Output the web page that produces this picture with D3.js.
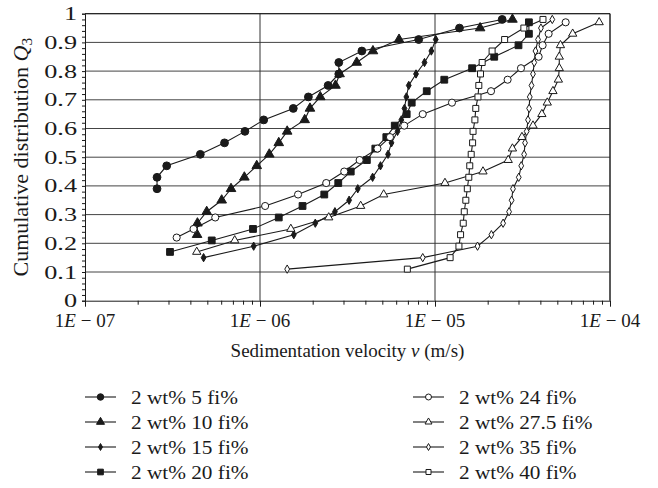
<!DOCTYPE html>
<html>
<head>
<meta charset="utf-8">
<script src="https://cdn.jsdelivr.net/npm/d3@7"></script>
<style>
  html, body { margin: 0; padding: 0; background: #fff; }
  svg { display: block; }
  text { font-family: "Liberation Serif", "DejaVu Serif", serif; fill: #1a1a1a; }
</style>
</head>
<body>
<svg id="chart" width="658" height="488"></svg>
<script>
// Series labels
const seriesLabels = ["2 wt% 5 fi%", "2 wt% 10 fi%", "2 wt% 15 fi%", "2 wt% 20 fi%",
                      "2 wt% 24 fi%", "2 wt% 27.5 fi%", "2 wt% 35 fi%", "2 wt% 40 fi%"];

// Sedimentation velocity (m/s) and cumulative distribution Q3 for each suspension
const v05 = [2.58e-7, 2.58e-7, 2.93e-7, 4.56e-7, 6.27e-7, 8.2e-7, 1.05e-6, 1.55e-6, 1.89e-6, 2.45e-6,
             2.82e-6, 2.82e-6, 3.82e-6, 8.07e-6, 1.38e-5, 2.42e-5];
const q05 = [0.39, 0.43, 0.47, 0.51, 0.55, 0.59, 0.63, 0.67, 0.71, 0.75,
             0.79, 0.83, 0.87, 0.91, 0.95, 0.98];

const v10 = [4.37e-7, 4.39e-7, 4.96e-7, 6.04e-7, 6.83e-7, 8.14e-7, 9.58e-7, 1.13e-6, 1.28e-6, 1.43e-6,
             1.80e-6, 1.93e-6, 2.21e-6, 2.70e-6, 2.85e-6, 3.57e-6, 4.42e-6, 6.23e-6, 1.81e-5, 2.77e-5];
const q10 = [0.23, 0.27, 0.31, 0.35, 0.39, 0.43, 0.47, 0.51, 0.55, 0.59,
             0.63, 0.67, 0.71, 0.75, 0.79, 0.83, 0.87, 0.91, 0.95, 0.98];

const v15 = [4.76e-7, 9.20e-7, 1.56e-6, 2.07e-6, 2.68e-6, 3.23e-6, 3.62e-6, 4.40e-6, 4.88e-6, 5.39e-6,
             5.64e-6, 6.11e-6, 6.42e-6, 6.69e-6, 6.86e-6, 7.08e-6, 7.79e-6, 8.71e-6, 9.53e-6, 1.01e-5];
const q15 = [0.15, 0.19, 0.23, 0.27, 0.31, 0.35, 0.39, 0.43, 0.47, 0.51,
             0.55, 0.59, 0.63, 0.67, 0.71, 0.75, 0.79, 0.83, 0.87, 0.91];

const v20 = [3.06e-7, 5.30e-7, 9.12e-7, 1.28e-6, 1.75e-6, 2.33e-6, 2.80e-6, 3.30e-6, 4.08e-6, 4.56e-6,
             5.27e-6, 5.89e-6, 6.89e-6, 7.36e-6, 8.97e-6, 1.13e-5, 1.63e-5, 2.18e-5, 3.00e-5, 3.44e-5, 3.44e-5];
const q20 = [0.17, 0.21, 0.25, 0.29, 0.33, 0.37, 0.41, 0.45, 0.49, 0.53,
             0.57, 0.61, 0.65, 0.69, 0.73, 0.77, 0.81, 0.85, 0.89, 0.93, 0.97];

const v24 = [3.34e-7, 4.17e-7, 5.55e-7, 1.07e-6, 1.65e-6, 2.39e-6, 3.03e-6, 3.71e-6, 4.69e-6, 5.53e-6,
             6.67e-6, 8.51e-6, 1.25e-5, 2.09e-5, 2.60e-5, 3.10e-5, 3.91e-5, 4.12e-5, 4.46e-5, 5.58e-5];
const q24 = [0.22, 0.25, 0.29, 0.33, 0.37, 0.41, 0.45, 0.49, 0.53, 0.57,
             0.61, 0.65, 0.69, 0.73, 0.77, 0.81, 0.85, 0.89, 0.93, 0.97];

const v275 = [4.35e-7, 7.17e-7, 1.50e-6, 2.47e-6, 3.76e-6, 5.09e-6, 1.14e-5, 1.88e-5, 2.62e-5, 2.77e-5,
              3.14e-5, 3.63e-5, 4.08e-5, 4.38e-5, 4.72e-5, 5.07e-5, 5.13e-5, 5.13e-5, 5.21e-5, 6.12e-5, 8.67e-5];
const q275 = [0.17, 0.21, 0.25, 0.29, 0.33, 0.37, 0.41, 0.45, 0.49, 0.53,
              0.57, 0.61, 0.65, 0.69, 0.73, 0.77, 0.81, 0.85, 0.89, 0.93, 0.97];

const v35 = [1.43e-6, 8.51e-6, 1.75e-5, 2.10e-5, 2.45e-5, 2.65e-5, 2.74e-5, 2.79e-5, 3.01e-5, 3.11e-5,
             3.23e-5, 3.27e-5, 3.34e-5, 3.40e-5, 3.45e-5, 3.48e-5, 3.56e-5, 3.63e-5, 3.69e-5, 3.75e-5,
             3.88e-5, 4.03e-5, 4.68e-5];
const q35 = [0.11, 0.15, 0.19, 0.23, 0.27, 0.31, 0.35, 0.39, 0.43, 0.47,
             0.51, 0.55, 0.59, 0.63, 0.67, 0.71, 0.75, 0.79, 0.83, 0.87,
             0.91, 0.95, 0.98];

const v40 = [6.95e-6, 1.22e-5, 1.37e-5, 1.40e-5, 1.45e-5, 1.47e-5, 1.50e-5, 1.53e-5, 1.56e-5, 1.58e-5,
             1.61e-5, 1.64e-5, 1.65e-5, 1.69e-5, 1.71e-5, 1.76e-5, 1.78e-5, 1.82e-5, 1.86e-5, 2.12e-5,
             2.50e-5, 3.22e-5, 4.14e-5];
const q40 = [0.11, 0.15, 0.19, 0.23, 0.27, 0.31, 0.35, 0.39, 0.43, 0.47,
             0.51, 0.55, 0.59, 0.63, 0.67, 0.71, 0.75, 0.79, 0.83, 0.87,
             0.91, 0.95, 0.98];

// Axis ticks
const xTickValues = [1e-7, 1e-6, 1e-5, 1e-4];
const xTickExponents = ["07", "06", "05", "04"];
const yTickValues = [0, 0.1, 0.2, 0.3, 0.4, 0.5, 0.6, 0.7, 0.8, 0.9, 1];
const yTickLabels = ["0", "0.1", "0.2", "0.3", "0.4", "0.5", "0.6", "0.7", "0.8", "0.9", "1"];

// Marker look for each series: shape, filled or hollow, symbol area
const markerShapes = [
  {type: d3.symbolCircle,   filled: true,  size: 48},
  {type: d3.symbolTriangle, filled: true,  size: 40},
  {type: d3.symbolDiamond,  filled: true,  size: 20},
  {type: d3.symbolSquare,   filled: true,  size: 46},
  {type: d3.symbolCircle,   filled: false, size: 40},
  {type: d3.symbolTriangle, filled: false, size: 30},
  {type: d3.symbolDiamond,  filled: false, size: 20},
  {type: d3.symbolSquare,   filled: false, size: 36}
];

const series = [
  {v: v05, q: q05}, {v: v10, q: q10}, {v: v15, q: q15}, {v: v20, q: q20},
  {v: v24, q: q24}, {v: v275, q: q275}, {v: v35, q: q35}, {v: v40, q: q40}
].map((s, i) => ({
  label: seriesLabels[i],
  marker: markerShapes[i],
  points: s.v.map((v, j) => ({v: v, q: s.q[j]}))
}));

const ink = "#1a1a1a";
const svg = d3.select("#chart");

const plot = {left: 85, right: 610, top: 13.7, bottom: 300.7};
const x = d3.scaleLog().domain([1e-7, 1e-4]).range([plot.left, plot.right]);
const y = d3.scaleLinear().domain([0, 1]).range([plot.bottom, plot.top]);

// Horizontal grid lines at every 0.1
svg.append("g")
  .selectAll("line")
  .data(yTickValues.slice(1))
  .join("line")
  .attr("x1", plot.left).attr("x2", plot.right)
  .attr("y1", d => y(d)).attr("y2", d => y(d))
  .attr("stroke", "#444").attr("stroke-width", 1);

// Vertical grid lines at each decade
svg.append("g")
  .selectAll("line")
  .data(xTickValues.slice(1))
  .join("line")
  .attr("x1", d => x(d)).attr("x2", d => x(d))
  .attr("y1", plot.top).attr("y2", plot.bottom)
  .attr("stroke", "#333").attr("stroke-width", 1);

// X axis: major ticks at decades, minor ticks at 2..9
const xAxis = d3.axisBottom(x)
  .tickValues(x.ticks())
  .tickSize(5)
  .tickFormat("");
const gx = svg.append("g")
  .attr("transform", `translate(0,${plot.bottom})`)
  .call(xAxis);
gx.select(".domain").attr("stroke", ink);
gx.selectAll(".tick line")
  .attr("stroke", ink)
  .attr("y2", d => xTickValues.some(t => Math.abs(t - d) / t < 1e-9) ? 6 : 4);

// X tick labels "1E − 07"
const xLab = svg.append("g").selectAll("text")
  .data(xTickValues)
  .join("text")
  .attr("x", d => x(d))
  .attr("y", 327)
  .attr("text-anchor", "middle")
  .attr("font-size", 19);
xLab.append("tspan").text("1");
xLab.append("tspan").attr("font-style", "italic").text("E");
xLab.append("tspan").text((d, i) => " \u2212 " + xTickExponents[i]);

// Y axis: minor ticks every 0.02 to the left
const yAxis = d3.axisLeft(y)
  .tickValues(d3.range(0, 51).map(i => i / 50))
  .tickSize(3)
  .tickFormat("");
const gy = svg.append("g")
  .attr("transform", `translate(${plot.left},0)`)
  .call(yAxis);
gy.select(".domain").attr("stroke", ink);
gy.selectAll(".tick line").attr("stroke", ink);

// Y tick labels (wide set type)
svg.append("g").selectAll("text")
  .data(yTickValues)
  .join("text")
  .attr("transform", d => `translate(77,${y(d) + 6.5}) scale(1.38,1)`)
  .attr("text-anchor", "end")
  .attr("font-size", 19)
  .text((d, i) => yTickLabels[i]);

// Frame: top and right edges
svg.append("line")
  .attr("x1", plot.right).attr("x2", plot.right)
  .attr("y1", plot.top).attr("y2", plot.bottom)
  .attr("stroke", ink);
svg.append("line")
  .attr("x1", plot.left).attr("x2", plot.right)
  .attr("y1", plot.top).attr("y2", plot.top)
  .attr("stroke", ink);

// Axis titles
const xTitle = svg.append("text")
  .attr("x", (plot.left + plot.right) / 2)
  .attr("y", 357)
  .attr("text-anchor", "middle")
  .attr("font-size", 19);
xTitle.append("tspan").text("Sedimentation velocity ");
xTitle.append("tspan").attr("font-style", "italic").text("v");
xTitle.append("tspan").text(" (m/s)");

const yTitle = svg.append("text")
  .attr("transform", `translate(28,${(plot.top + plot.bottom) / 2}) rotate(-90) scale(1.1,1)`)
  .attr("text-anchor", "middle")
  .attr("font-size", 20);
yTitle.append("tspan").text("Cumulative distribution ");
yTitle.append("tspan").attr("font-style", "italic").text("Q");
yTitle.append("tspan").attr("font-size", 14).attr("dy", 4).text("3");

// Series lines and markers
const line = d3.line().x(d => x(d.v)).y(d => y(d.q));
const symbolPath = (m, k = 1) => d3.symbol().type(m.type).size(m.size * k)();

const gSeries = svg.append("g");
series.forEach(s => {
  gSeries.append("path")
    .attr("d", line(s.points))
    .attr("fill", "none")
    .attr("stroke", ink)
    .attr("stroke-width", 1.1);
});
series.forEach(s => {
  gSeries.append("g").selectAll("path")
    .data(s.points)
    .join("path")
    .attr("transform", d => `translate(${x(d.v)},${y(d.q)})`)
    .attr("d", symbolPath(s.marker))
    .attr("fill", s.marker.filled ? ink : "#fff")
    .attr("stroke", ink)
    .attr("stroke-width", 1);
});

// Legend in two columns of four rows
const legendCols = [{lineX: 85, textX: 131}, {lineX: 413, textX: 459}];
const legendRowY = [397, 422, 447, 472];
const legend = svg.append("g");
series.forEach((s, i) => {
  const col = legendCols[Math.floor(i / 4)];
  const yy = legendRowY[i % 4];
  const g = legend.append("g");
  g.append("line")
    .attr("x1", col.lineX).attr("x2", col.lineX + 31)
    .attr("y1", yy).attr("y2", yy)
    .attr("stroke", ink).attr("stroke-width", 1.1);
  g.append("path")
    .attr("transform", `translate(${col.lineX + 15.5},${yy})`)
    .attr("d", symbolPath(s.marker, 0.7))
    .attr("fill", s.marker.filled ? ink : "#fff")
    .attr("stroke", ink);
  g.append("text")
    .attr("transform", `translate(${col.textX},${yy + 6.5}) scale(1.12,1)`)
    .attr("font-size", 19)
    .text(s.label);
});
</script>
</body>
</html>
